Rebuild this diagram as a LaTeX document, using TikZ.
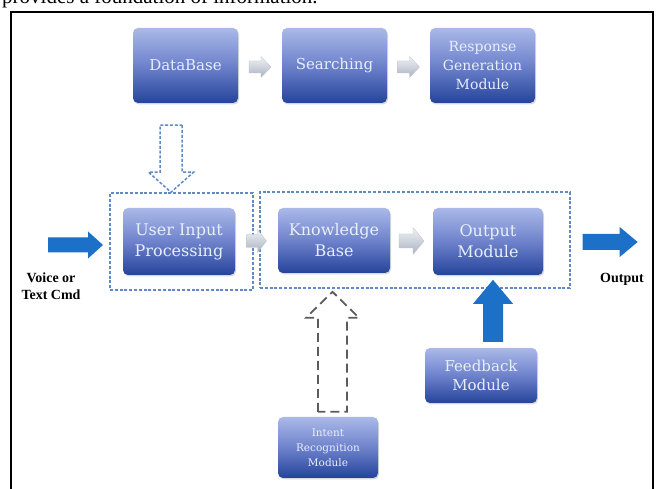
\documentclass[tikz,border=0pt]{standalone}
\usepackage{fontspec}
\setmainfont{Liberation Serif}
\newfontfamily\boxfont{DejaVu Serif}
\usetikzlibrary{shadows,calc}
\definecolor{boxtop}{RGB}{170,185,232}
\definecolor{boxmid}{RGB}{110,130,204}
\definecolor{boxbot}{RGB}{36,68,154}
\definecolor{boxtext}{RGB}{232,238,252}
\definecolor{dashblue}{RGB}{95,138,198}
\definecolor{arrowblue}{RGB}{28,112,200}
\definecolor{grayA}{RGB}{240,242,246}
\definecolor{grayB}{RGB}{170,178,192}
\definecolor{dashgray}{RGB}{90,90,95}
\tikzset{
  blockbox/.style={rounded corners=5pt, top color=boxtop, bottom color=boxbot, middle color=boxmid,
    draw=none, text=boxtext, font=\boxfont, align=center, inner sep=0pt,
    drop shadow={opacity=0.3, shadow xshift=1pt, shadow yshift=-1.5pt}},
  dashbox/.style={draw=dashblue, dash pattern=on 3pt off 1.8pt, line width=1.3pt, inner sep=0pt},
  pics/blockarrow/.style args={#1/#2/#3/#4}{code={
     \path[pic actions] (0,-#2/2) -- (#1-#4,-#2/2) -- (#1-#4,-#3/2) -- (#1,0) -- (#1-#4,#3/2) -- (#1-#4,#2/2) -- (0,#2/2) -- cycle;}},
  grayarrow/.style={top color=grayA, bottom color=grayB, draw=grayB!80, line width=0.3pt},
  bluearrow/.style={fill=arrowblue, draw=none},
  lbl/.style={font=\bfseries\fontsize{14}{17}\selectfont, align=center, inner sep=0pt}
}
\begin{document}
\begin{tikzpicture}[x=1pt,y=-1pt]
\useasboundingbox (0,0) rectangle (657,489);
\clip (0,0) rectangle (657,489);
\fill[white] (0,0) rectangle (657,489);

% clipped running text at the top
\node[anchor=base west, inner sep=0pt, font=\fontsize{21}{21}\selectfont] (toptext) at (2,3.5) {provides a foundation of information.};

% frame
\draw[line width=2pt] (11,495) -- (11,12) -- (653,12) -- (653,495);

% top row
\node[blockbox, minimum width=105pt, minimum height=75pt, font=\boxfont\fontsize{15}{19}\selectfont] (db) at (185.5,65.5) {DataBase};
\node[blockbox, minimum width=105pt, minimum height=75pt, font=\boxfont\fontsize{15}{19}\selectfont] (search) at (334.5,65.5) {Searching};
\node[blockbox, minimum width=105pt, minimum height=75pt, font=\boxfont\fontsize{14}{19}\selectfont] (resp) at (482.5,65.5) {Response\\Generation\\Module};

\pic[grayarrow] at ($(db.east)!0.5!(search.west)+(-11,1.5)$) {blockarrow=22/12/21/10};
\pic[grayarrow] at ($(search.east)!0.5!(resp.west)+(-11,1.5)$) {blockarrow=22/12/21/10};

% middle row
\node[dashbox, minimum width=143pt, minimum height=97pt] (dbox1) at (181.5,241.5) {};
\node[dashbox, minimum width=310pt, minimum height=96pt] (dbox2) at (415,240) {};

\node[blockbox, minimum width=112pt, minimum height=67pt, font=\boxfont\fontsize{16}{21}\selectfont] (uip) at (179,241.5) {User Input\\Processing};
\node[blockbox, minimum width=112pt, minimum height=65pt, font=\boxfont\fontsize{16}{21}\selectfont] (kb) at (334,240.5) {Knowledge\\Base};
\node[blockbox, minimum width=110pt, minimum height=67pt, font=\boxfont\fontsize{16}{21}\selectfont] (out) at (488,241.5) {Output\\Module};

\pic[grayarrow] at ($(uip.east)!0.5!(kb.west)+(-10,0)$) {blockarrow=20/13/23/9};
\pic[grayarrow] at ($(kb.east)!0.5!(out.west)+(-12.5,0)$) {blockarrow=25/14/27/11};

% dashed arrow from the database down to user input
\coordinate (downtail) at ($(db.south)+(-14.5,22)$);
\pic[rotate=-90, draw=dashblue, fill=white, dash pattern=on 3pt off 1.8pt, line width=1.5pt] at (downtail) {blockarrow=67/22/45/20};

% input and output arrows
\coordinate (intail) at (48,245);
\pic[bluearrow] at (intail) {blockarrow=55/15/27/15};
\node[lbl] (voice) at (51,286) {Voice or\\Text Cmd};

\coordinate (outtail) at ($(dbox2.east)+(12,2)$);
\pic[bluearrow] at (outtail) {blockarrow=55/16/30/18};
\node[lbl] (outlbl) at (622,279) {Output};

% bottom modules
\node[blockbox, minimum width=112pt, minimum height=55pt, font=\boxfont\fontsize{15}{19}\selectfont] (fb) at (481,375.5) {Feedback\\Module};
\node[blockbox, minimum width=100pt, minimum height=61pt, font=\boxfont\fontsize{10.5}{15}\selectfont] (irm) at (328,447.5) {Intent\\Recognition\\Module};

% feedback arrow up to output
\coordinate (fbtail) at ($(fb.north)+(12,-6)$);
\pic[rotate=90, bluearrow] at (fbtail) {blockarrow=62/20/40/24};

% dashed intent arrow up to knowledge base
\coordinate (irmtail) at ($(irm.north)+(4.5,-5)$);
\pic[rotate=90, draw=dashgray, fill=white, dash pattern=on 9pt off 5pt, line width=1.8pt] at (irmtail) {blockarrow=120/29/53/26};
\end{tikzpicture}
\end{document}
